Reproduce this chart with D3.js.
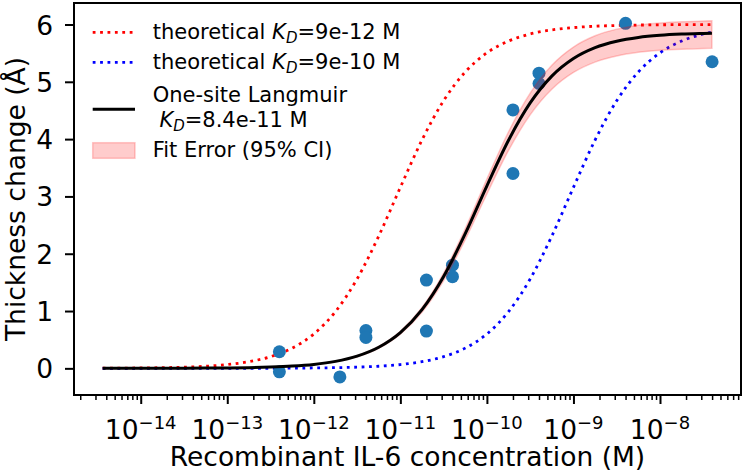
<!DOCTYPE html>
<html>
<head>
<meta charset="utf-8">
<script src="https://cdn.jsdelivr.net/npm/d3@7"></script>
<style>
  body { margin: 0; background: #fff; }
  text { font-family: "DejaVu Sans", sans-serif; fill: #000; }
</style>
</head>
<body>
<div id="chart-area"></div>
<script>
// measured points (concentration in M, thickness change in Å)
var conc = [4e-13, 4e-13, 2e-12, 4e-12, 4e-12, 2e-11, 2e-11, 4e-11, 4e-11, 2e-10, 2e-10, 4e-10, 4e-10, 4e-9, 4e-8];
var thick = [0.29, -0.06, -0.15, 0.66, 0.54, 1.54, 0.65, 1.80, 1.60, 4.51, 3.40, 5.15, 4.97, 6.02, 5.35];

// curves, x given as log10(M)
var curveLogX = [-14.44, -14.25, -14.0, -13.75, -13.5, -13.25, -13.0, -12.75, -12.5, -12.25, -12.0, -11.75, -11.5, -11.25, -11.0,
                 -10.75, -10.5, -10.25, -10.0, -9.75, -9.5, -9.25, -9.0, -8.75, -8.5, -8.25, -8.0, -7.75, -7.5, -7.4];
var theoLow = [0.002, 0.004, 0.007, 0.012, 0.021, 0.037, 0.066, 0.116, 0.204, 0.353, 0.600, 0.990, 1.560, 2.308, 3.158,
               3.984, 4.671, 5.172, 5.505, 5.711, 5.834, 5.906, 5.946, 5.970, 5.983, 5.990, 5.995, 5.997, 5.998, 5.999];
var theoHigh = [0.000, 0.000, 0.000, 0.000, 0.000, 0.000, 0.001, 0.001, 0.002, 0.004, 0.007, 0.012, 0.021, 0.037, 0.066,
                0.116, 0.204, 0.353, 0.600, 0.990, 1.560, 2.308, 3.158, 3.984, 4.671, 5.172, 5.505, 5.711, 5.834, 5.867];
var fitMid = [0.000, 0.000, 0.001, 0.001, 0.002, 0.004, 0.007, 0.012, 0.022, 0.039, 0.069, 0.122, 0.213, 0.368, 0.624,
              1.024, 1.603, 2.351, 3.186, 3.981, 4.631, 5.099, 5.406, 5.596, 5.708, 5.774, 5.811, 5.832, 5.844, 5.848];
var fitHigh = [0.000, 0.000, 0.001, 0.001, 0.002, 0.004, 0.007, 0.013, 0.023, 0.040, 0.072, 0.126, 0.221, 0.382, 0.647,
               1.062, 1.663, 2.438, 3.304, 4.128, 4.802, 5.288, 5.606, 5.803, 5.919, 5.988, 6.026, 6.048, 6.060, 6.064];
var fitLow = [0.000, 0.000, 0.001, 0.001, 0.002, 0.004, 0.007, 0.012, 0.021, 0.037, 0.066, 0.116, 0.203, 0.351, 0.596,
              0.978, 1.531, 2.245, 3.042, 3.802, 4.423, 4.870, 5.163, 5.344, 5.451, 5.514, 5.550, 5.570, 5.581, 5.585];

var xTickExp = [-14, -13, -12, -11, -10, -9, -8];
var yTicks = [0, 1, 2, 3, 4, 5, 6];

var W = 744, H = 473;
var mL = 74, mR = 741, mT = 3, mB = 395;

var svg = d3.select('#chart-area').append('svg')
    .attr('width', W)
    .attr('height', H);

var x = d3.scaleLog().domain([Math.pow(10, -14.771), Math.pow(10, -7.064)]).range([mL, mR]);
var y = d3.scaleLinear().domain([-0.465, 6.375]).range([mB, mT]);

// minor ticks 2..9 per decade
var minor = [];
for (var e = -15; e <= -8; e++) {
    for (var m = 2; m <= 9; m++) {
        var v = m * Math.pow(10, e);
        if (v >= x.domain()[0] && v <= x.domain()[1]) minor.push(v);
    }
}

var xMinor = svg.append('g').attr('transform', `translate(0, ${mB})`)
    .call(d3.axisBottom(x).tickValues(minor).tickSize(5).tickFormat(''));
xMinor.select('.domain').remove();
xMinor.selectAll('line').attr('stroke-width', 1.5);

var xAxis = svg.append('g').attr('transform', `translate(0, ${mB})`)
    .call(d3.axisBottom(x).tickValues(xTickExp.map(d => Math.pow(10, d))).tickSize(9).tickFormat(''));
xAxis.select('.domain').remove();
xAxis.selectAll('line').attr('stroke-width', 2);

xTickExp.forEach(function(d) {
    var t = svg.append('text')
        .attr('x', x(Math.pow(10, d)))
        .attr('y', 439)
        .attr('text-anchor', 'middle')
        .attr('font-size', '26.5px');
    t.append('tspan').text('10');
    t.append('tspan').attr('dy', -10).attr('font-size', '18px').text('\u2212' + Math.abs(d));
});

var yAxis = svg.append('g').attr('transform', `translate(${mL}, 0)`)
    .call(d3.axisLeft(y).tickValues(yTicks).tickFormat(d3.format('d')).tickSize(9).tickPadding(12));
yAxis.select('.domain').remove();
yAxis.selectAll('line').attr('stroke-width', 2);
yAxis.selectAll('text')
    .attr('font-size', '26.5px')
    .attr('font-family', '"DejaVu Sans", sans-serif')
    .attr('dy', '0.36em');

// axis labels
svg.append('text')
    .attr('x', (mL + mR) / 2)
    .attr('y', 466)
    .attr('text-anchor', 'middle')
    .attr('font-size', '26.5px')
    .text('Recombinant IL-6 concentration (M)');

svg.append('text')
    .attr('transform', 'rotate(-90)')
    .attr('x', -(mT + mB) / 2)
    .attr('y', 25)
    .attr('text-anchor', 'middle')
    .attr('font-size', '26.5px')
    .text('Thickness change (Å)');

// curves
var line = d3.line()
    .x((d, i) => x(Math.pow(10, curveLogX[i])))
    .y(d => y(d))
    .curve(d3.curveMonotoneX);

svg.append('path').datum(theoLow)
    .attr('d', line)
    .attr('fill', 'none')
    .attr('stroke', '#ff0000')
    .attr('stroke-width', 2.8)
    .attr('stroke-dasharray', '2.8,4.6');

svg.append('path').datum(theoHigh)
    .attr('d', line)
    .attr('fill', 'none')
    .attr('stroke', '#0000ff')
    .attr('stroke-width', 2.8)
    .attr('stroke-dasharray', '2.8,4.6');

svg.selectAll('circle.pt').data(conc)
    .enter().append('circle')
    .attr('class', 'pt')
    .attr('cx', d => x(d))
    .attr('cy', (d, i) => y(thick[i]))
    .attr('r', 6.5)
    .attr('fill', '#1f77b4');

var band = d3.area()
    .x((d, i) => x(Math.pow(10, curveLogX[i])))
    .y0((d, i) => y(fitLow[i]))
    .y1(d => y(d))
    .curve(d3.curveMonotoneX);

svg.append('path').datum(fitHigh)
    .attr('d', band)
    .attr('fill', '#ff0000')
    .attr('fill-opacity', 0.2)
    .attr('stroke', '#ff0000')
    .attr('stroke-opacity', 0.2)
    .attr('stroke-width', 1.5);

svg.append('path').datum(fitMid)
    .attr('d', line)
    .attr('fill', 'none')
    .attr('stroke', '#000')
    .attr('stroke-width', 3);

// frame
svg.append('rect')
    .attr('x', mL).attr('y', mT)
    .attr('width', mR - mL).attr('height', mB - mT)
    .attr('fill', 'none')
    .attr('stroke', '#000')
    .attr('stroke-width', 2);

// legend
var lg = svg.append('g').attr('font-size', '21px');
var lx0 = 92.7, lx1 = 135, tx = 152.7;

function kd(t, rest) {
    t.append('tspan').attr('font-style', 'italic').text('K');
    t.append('tspan').attr('font-style', 'italic').attr('font-size', '15px').attr('dy', 4).text('D');
    t.append('tspan').attr('dy', -4).text(rest);
}

lg.append('line').attr('x1', lx0).attr('x2', lx1).attr('y1', 32.3).attr('y2', 32.3)
    .attr('stroke', '#ff0000').attr('stroke-width', 2.8).attr('stroke-dasharray', '2.8,4.6');
var t1 = lg.append('text').attr('x', tx).attr('y', 38.5);
t1.append('tspan').text('theoretical ');
kd(t1, '=9e-12 M');

lg.append('line').attr('x1', lx0).attr('x2', lx1).attr('y1', 62.3).attr('y2', 62.3)
    .attr('stroke', '#0000ff').attr('stroke-width', 2.8).attr('stroke-dasharray', '2.8,4.6');
var t2 = lg.append('text').attr('x', tx).attr('y', 69);
t2.append('tspan').text('theoretical ');
kd(t2, '=9e-10 M');

lg.append('line').attr('x1', lx0).attr('x2', lx1).attr('y1', 109.3).attr('y2', 109.3)
    .attr('stroke', '#000').attr('stroke-width', 3);
lg.append('text').attr('x', tx).attr('y', 101.7).text('One-site Langmuir');
var t3 = lg.append('text').attr('x', tx + 6.7).attr('y', 126.7);
kd(t3, '=8.4e-11 M');

lg.append('rect').attr('x', lx0).attr('y', 142.7).attr('width', lx1 - lx0).attr('height', 15.6)
    .attr('fill', '#ff0000').attr('fill-opacity', 0.2)
    .attr('stroke', '#ff0000').attr('stroke-opacity', 0.2).attr('stroke-width', 1.5);
lg.append('text').attr('x', tx).attr('y', 156.7).text('Fit Error (95% CI)');
</script>
</body>
</html>
